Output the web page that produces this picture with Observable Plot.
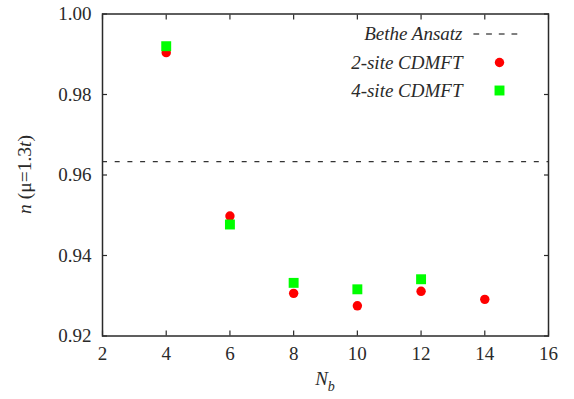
<!DOCTYPE html>
<html><head><meta charset="utf-8">
<script src="https://cdn.jsdelivr.net/npm/d3@7"></script>
<script src="https://cdn.jsdelivr.net/npm/@observablehq/plot@0.6"></script>
<style>body{margin:0;background:#fff}</style>
</head><body><div id="chart"></div>
<script>
const nb2 = [4, 6, 8, 10, 12, 14];
const n2 = [0.9904, 0.9498, 0.9306, 0.9275, 0.9311, 0.9291];
const nb4 = [4, 6, 8, 10, 12];
const n4 = [0.9920, 0.9477, 0.9332, 0.9316, 0.9341];
const betheAnsatz = [0.9633];
const xTicks = [2, 4, 6, 8, 10, 12, 14, 16];
const yTicks = [0.92, 0.94, 0.96, 0.98, 1.00];
const legendLabels = ["Bethe Ansatz", "2-site CDMFT", "4-site CDMFT"];

const data2 = nb2.map((x, i) => ({x, y: n2[i]}));
const data4 = nb4.map((x, i) => ({x, y: n4[i]}));

const RED = "#ff0000", GREEN = "#00ff00", INK = "#2a2a2a";
const FONT = "'Liberation Serif', 'Times New Roman', serif";
const dashShape = {draw(ctx, l) { ctx.moveTo(0, 0); ctx.lineTo(0, -l); }};

const chart = Plot.plot({
  width: 574, height: 399,
  marginLeft: 102, marginRight: 26, marginTop: 13.5, marginBottom: 63.5,
  x: {domain: [2, 16]},
  y: {domain: [0.92, 1.0]},
  style: {fontFamily: FONT, fontSize: "19px", color: INK, background: "#fff"},
  marks: [
    Plot.ruleY(betheAnsatz, {stroke: "#000", strokeWidth: 1, strokeDasharray: "5,7.7"}),
    Plot.dot(data2, {x: "x", y: "y", r: 4.7, fill: RED, symbol: "circle"}),
    Plot.dot(data4, {x: "x", y: "y", r: 5.6, fill: GREEN, symbol: "square"}),
    // tick labels
    Plot.axisX(xTicks, {anchor: "bottom", tickSize: 0, tickPadding: 10, tickFormat: d3.format("d"), label: null}),
    Plot.axisY(yTicks, {anchor: "left", tickSize: 0, tickPadding: 11, tickFormat: d3.format(".2f"), label: null}),
    // inward ticks on all sides
    Plot.axisX(xTicks, {anchor: "bottom", tickSize: -5, tickFormat: () => "", label: null, strokeWidth: 1.2}),
    Plot.axisX(xTicks, {anchor: "top", tickSize: -5, tickFormat: () => "", label: null, strokeWidth: 1.2}),
    Plot.axisY(yTicks, {anchor: "left", tickSize: -5, tickFormat: () => "", label: null, strokeWidth: 1.2}),
    Plot.axisY(yTicks, {anchor: "right", tickSize: -5, tickFormat: () => "", label: null, strokeWidth: 1.2}),
    Plot.frame({stroke: INK, strokeWidth: 1.5}),
    // legend
    Plot.text([legendLabels[0]], {frameAnchor: "top-right", text: d => d, dx: -86, dy: 19.5, textAnchor: "end", lineAnchor: "middle", fontStyle: "italic", fill: INK}),
    Plot.vector([legendLabels[0]], {frameAnchor: "top-right", dx: -50.7, dy: 20, length: 48, rotate: 90, anchor: "middle", stroke: "#000", strokeWidth: 1, strokeDasharray: "5,7.7", shape: dashShape}),
    Plot.text([legendLabels[1]], {frameAnchor: "top-right", text: d => d, dx: -86, dy: 48.5, textAnchor: "end", lineAnchor: "middle", fontStyle: "italic", fill: INK}),
    Plot.dot([legendLabels[1]], {frameAnchor: "top-right", dx: -49, dy: 48.5, r: 4.7, fill: RED, symbol: "circle"}),
    Plot.text([legendLabels[2]], {frameAnchor: "top-right", text: d => d, dx: -86, dy: 76.5, textAnchor: "end", lineAnchor: "middle", fontStyle: "italic", fill: INK}),
    Plot.dot([legendLabels[2]], {frameAnchor: "top-right", dx: -49, dy: 76.5, r: 5.6, fill: GREEN, symbol: "square"})
  ]
});

document.getElementById("chart").appendChild(chart);

// axis titles with mixed italic
const svg = d3.select(chart);
const xr = chart.scale("x").range, yr = chart.scale("y").range;
const xl = svg.append("text")
  .attr("x", (xr[0] + xr[1]) / 2).attr("y", 385)
  .attr("text-anchor", "middle").attr("fill", INK)
  .style("font-family", FONT).style("font-size", "19px");
xl.append("tspan").attr("font-style", "italic").text("N");
xl.append("tspan").attr("font-style", "italic").style("font-size", "14px").attr("dy", 6).text("b");

const yl = svg.append("text")
  .attr("transform", `translate(30.5,${(yr[0] + yr[1]) / 2}) rotate(-90)`)
  .attr("text-anchor", "middle").attr("fill", INK)
  .style("font-family", FONT).style("font-size", "19.5px");
yl.append("tspan").attr("font-style", "italic").text("n");
yl.append("tspan").text(" (μ=1.3");
yl.append("tspan").attr("font-style", "italic").text("t");
yl.append("tspan").text(")");
</script>
</body></html>
